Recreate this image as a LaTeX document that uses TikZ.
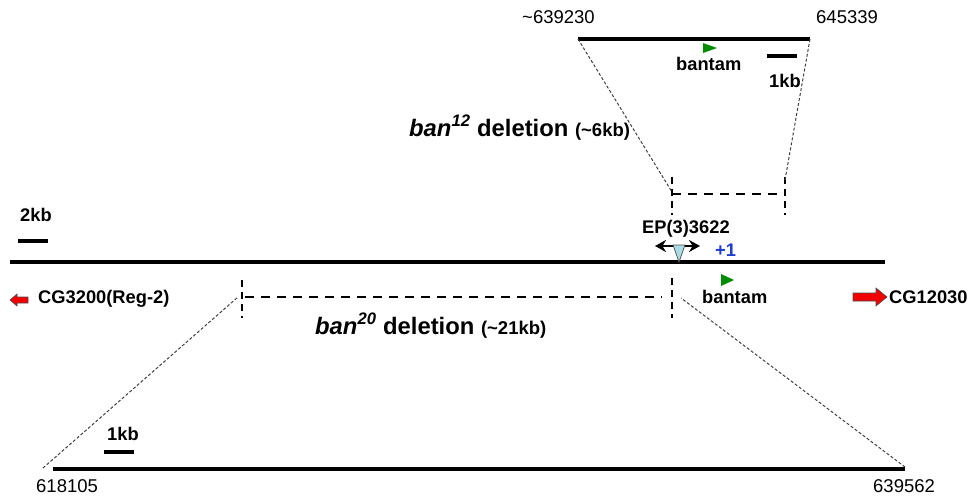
\documentclass[tikz,border=0pt]{standalone}
\usepackage{fontspec}
\setmainfont{Liberation Sans}
\usetikzlibrary{arrows.meta}
\definecolor{arrred}{RGB}{240,0,0}
\definecolor{tgreen}{RGB}{0,140,0}
\definecolor{tblue}{RGB}{30,60,210}
\definecolor{lblue}{RGB}{170,220,230}
\begin{document}
\begin{tikzpicture}[x=1pt,y=-1pt,
  lbl/.style={inner sep=0pt, anchor=base west, font=\fontsize{18.3}{20}\selectfont\bfseries},
  num/.style={inner sep=0pt, anchor=base west, font=\fontsize{18.5}{20}\selectfont},
  big/.style={inner sep=0pt, anchor=base west, font=\fontsize{23.8}{26}\selectfont\bfseries},
  chrom/.style={line width=3.4pt},
  bar/.style={line width=4.4pt},
  thickdash/.style={line width=2.7pt, dash pattern=on 9pt off 7pt},
  tickdash/.style={line width=2.5pt, dash pattern=on 7pt off 5pt},
  thindash/.style={line width=1pt, dash pattern=on 3pt off 2pt, black!75},
  redarrow/.style={fill=arrred, draw=black!70, line width=0.6pt},
  gtri/.style={fill=tgreen, draw=none}]
\useasboundingbox (0,0) rectangle (969,496);

% coordinates
\coordinate (mainL) at (10,262);
\coordinate (mainR) at (885,262);
\coordinate (topL) at (578,39);
\coordinate (topR) at (810,39);
\coordinate (botL) at (53,469);
\coordinate (botR) at (905,469);
\coordinate (dbL) at (43,468);
\coordinate (dbR) at (905,467);
\coordinate (d20L) at (238,297);
\coordinate (d20R) at (681,298);
\coordinate (d12L) at (672,192);
\coordinate (d12R) at (785,180);

% main chromosome line
\draw[chrom] (mainL) -- (mainR);
% top zoom line
\draw[chrom] (topL) -- (topR);
% bottom zoom line
\draw[line width=3.9pt] (botL) -- (botR);

% scale bars
\node[lbl] (kb2) at (20,221) {2kb};
\draw[bar] (18,241) -- (48,241);
\node[lbl] (kb1top) at (769,87) {1kb};
\draw[bar] (767,56) -- (797,56);
\node[lbl] (kb1bot) at (107,440) {1kb};
\draw[bar] (104,452) -- (134,452);

% coordinates labels
\node[num] (n1) at (522,23) {\textasciitilde639230};
\node[num] (n2) at (816,23) {645339};
\node[num] (n3) at (36,492) {618105};
\node[num] (n4) at (873,492) {639562};

% ban12 deletion
\draw[tickdash] (672,177) -- (672,215);
\draw[tickdash] (785,177) -- (785,215);
\draw[thickdash] (672,194) -- (785,194);
\draw[thindash] (topL) -- (d12L);
\draw[thindash] (topR) -- (d12R);
\node[big] (ban12) at (409,136) {\textit{ban}\textsuperscript{\textit{12}} deletion {\fontsize{18.5}{20}\selectfont(\textasciitilde6kb)}};

% ban20 deletion
\draw[tickdash] (242,280) -- (242,318);
\draw[tickdash] (672,278) -- (672,318);
\draw[thickdash] (245,297) -- (662,297);
\draw[thindash] (dbL) -- (d20L);
\draw[thindash] (dbR) -- (d20R);
\node[big] (ban20) at (315,334) {\textit{ban}\textsuperscript{\textit{20}} deletion {\fontsize{18.5}{20}\selectfont(\textasciitilde21kb)}};

% bantam top
\fill[gtri] (703,43) -- (717,48) -- (703,53) -- cycle;
\node[lbl] (bantop) at (676,70) {bantam};
% bantam bottom
\fill[gtri] (721,274) -- (734,280) -- (721,286) -- cycle;
\node[lbl] (banbot) at (702,303) {bantam};

% EP(3)3622
\node[lbl] (ep) at (642,233) {EP(3)3622};
\draw[line width=2.2pt, {Stealth[length=11pt,width=12pt]}-{Stealth[length=11pt,width=12pt]}] (655,246) -- (700,246);
\draw[fill=lblue, draw=black!70, line width=0.7pt] (673,245) -- (685,245) -- (679,262) -- cycle;
\node[lbl, text=tblue] (plus1) at (715,256) {+1};

% genes
\draw[redarrow] (10,300) -- (17,294) -- (17,297) -- (28,297) -- (28,303) -- (17,303) -- (17,306) -- cycle;
\node[lbl] (cg3200) at (38,303) {CG3200(Reg-2)};
\draw[redarrow] (853,293) -- (876,293) -- (876,288) -- (887,297) -- (876,306) -- (876,301) -- (853,301) -- cycle;
\node[lbl] (cg12030) at (889,303) {CG12030};
\end{tikzpicture}
\end{document}
